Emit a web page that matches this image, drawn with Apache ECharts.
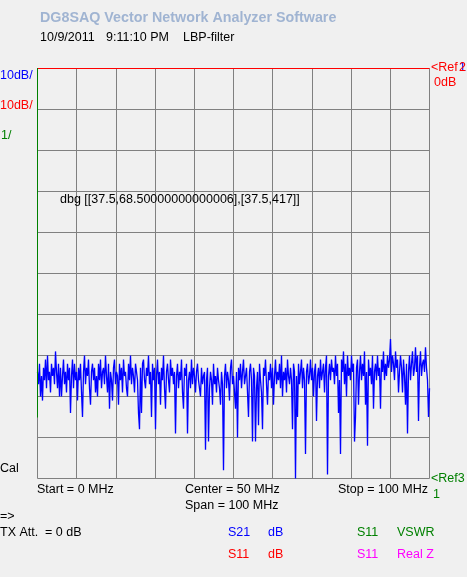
<!DOCTYPE html>
<html>
<head>
<meta charset="utf-8">
<script src="https://cdn.jsdelivr.net/npm/echarts@6/dist/echarts.min.js"></script>
<style>
html,body{margin:0;padding:0;background:#f0f0f0;}
#chart{width:467px;height:577px;}
</style>
</head>
<body>
<div id="chart"></div>
<script>
// Sweep
const startMHz = 0;
const stopMHz = 100;
// S21 (dB) trace, one value per sweep point
const s21dB = [
-74,-77,-72,-80,-75,-81,-73,-76,-71,-78,-70,-76,-74,-79,-72,-75,-73,-77,-69,-74,
-78,-72,-80,-73,-80,-75,-71,-77,-74,-79,-72,-76,-73,-84,-75,-71,-78,-72,-76,-74,
-81,-73,-76,-72,-79,-85,-74,-70,-77,-73,-75,-71,-78,-82,-74,-72,-76,-73,-79,-75,
-80,-72,-76,-71,-78,-74,-73,-77,-70,-75,-79,-72,-83,-74,-76,-81,-73,-71,-77,-74,
-75,-82,-72,-76,-73,-79,-71,-75,-74,-78,-80,-72,-76,-70,-77,-73,-75,-79,-72,-74,
-76,-84,-88,-73,-84,-72,-71,-76,-78,-73,-75,-70,-77,-74,-85,-72,-76,-73,-88,-75,
-71,-77,-74,-82,-73,-76,-70,-78,-83,-74,-72,-76,-79,-71,-75,-73,-77,-74,-89,-75,
-72,-78,-74,-76,-71,-79,-83,-73,-75,-72,-89,-76,-74,-78,-71,-77,-73,-75,-79,-74,
-72,-76,-78,-80,-73,-77,-75,-74,-93,-76,-73,-91,-78,-74,-76,-82,-72,-77,-75,-79,
-73,-76,-78,-82,-74,-77,-98,-75,-72,-78,-74,-76,-81,-73,-71,-77,-75,-79,-83,-74,
-90,-73,-76,-72,-78,-74,-71,-77,-75,-73,-79,-85,-74,-72,-76,-91,-73,-75,-91,-78,
-74,-87,-72,-76,-79,-88,-73,-75,-71,-77,-82,-74,-76,-72,-78,-73,-82,-75,-71,-77,
-74,-76,-72,-78,-70,-80,-74,-76,-73,-79,-71,-75,-77,-73,-76,-88,-72,-74,-100,-75,
-85,-72,-77,-74,-71,-78,-73,-76,-94,-74,-72,-77,-75,-71,-76,-73,-80,-74,-72,-86,
-75,-73,-78,-71,-76,-74,-72,-79,-73,-70,-99,-75,-72,-76,-71,-74,-73,-77,-70,-75,
-72,-84,-76,-94,-71,-74,-69,-77,-72,-80,-70,-75,-73,-76,-70,-74,-72,-91,-85,-73,
-71,-82,-74,-70,-76,-72,-75,-69,-82,-74,-92,-71,-75,-73,-77,-70,-83,-74,-72,-76,
-70,-75,-73,-83,-71,-74,-69,-76,-72,-75,-70,-73,-71,-66,-74,-70,-72,-76,-69,-73,
-71,-79,-74,-70,-73,-79,-71,-75,-82,-72,-89,-74,-70,-76,-72,-69,-75,-73,-68,-74,
-70,-86,-73,-69,-75,-72,-71,-74,-68,-73,-76,-85,-78
];
// S11 (dB) trace: flat at 0 dB across the sweep
const s11dBFreq = [0, 100];
const s11dB = [0, 0];
// S11 VSWR trace: vertical stroke at start frequency (in dB-scale units)
const vswrFreq = [0, 0];
const vswrVal = [0, -85];

const yMin = -100, yMax = 0, yStep = 10;
const xStep = 10;

const n = s21dB.length;
const s21Data = s21dB.map((v, i) => [startMHz + i * (stopMHz - startMHz) / (n - 1), v]);
const s11Data = s11dBFreq.map((f, i) => [f, s11dB[i]]);
const vswrData = vswrFreq.map((f, i) => [f, vswrVal[i]]);

const FONT = '"Liberation Sans", Arial, sans-serif';
function txt(x, y, text, color, extra) {
  return {
    type: 'text', x: x, y: y, z: 100,
    style: Object.assign({ text: text, fill: color, font: '12.5px ' + FONT, verticalAlign: 'middle', align: 'left' }, extra || {})
  };
}

const texts = [
  txt(40, 18, 'DG8SAQ Vector Network Analyzer Software', '#a0b4d2', { font: 'bold 14.3px ' + FONT }),
  txt(40, 38, '10/9/2011', '#000000'),
  txt(106, 38, '9:11:10 PM', '#000000'),
  txt(183, 38, 'LBP-filter', '#000000'),
  txt(0, 76, '10dB/', '#0000ff'),
  txt(0, 106, '10dB/', '#ff0000'),
  txt(1, 136, '1/', '#008000'),
  txt(0, 469, 'Cal', '#000000'),
  txt(431, 68, '<Ref', '#ff0000'),
  txt(459, 68, '1', '#0000ff'),
  txt(459, 68, '2', '#ff0000'),
  txt(434, 83, '0dB', '#ff0000'),
  txt(431, 479, '<Ref3', '#008000'),
  txt(433, 495, '1', '#008000'),
  txt(37, 490, 'Start = 0 MHz', '#000000'),
  txt(185, 490, 'Center = 50 MHz', '#000000'),
  txt(338, 490, 'Stop = 100 MHz', '#000000'),
  txt(185, 506, 'Span = 100 MHz', '#000000'),
  txt(0, 517, '=>', '#000000'),
  txt(0, 533, 'TX Att.', '#000000'),
  txt(45, 533, '= 0 dB', '#000000'),
  txt(228, 533, 'S21', '#0000ff'),
  txt(268, 533, 'dB', '#0000ff'),
  txt(357, 533, 'S11', '#008000'),
  txt(397, 533, 'VSWR', '#008000'),
  txt(228, 555, 'S11', '#ff0000'),
  txt(268, 555, 'dB', '#ff0000'),
  txt(357, 555, 'S11', '#ff00ff'),
  txt(397, 555, 'Real Z', '#ff00ff')
];

const chart = echarts.init(document.getElementById('chart'), null, { renderer: 'canvas' });
chart.setOption({
  backgroundColor: '#f0f0f0',
  animation: false,
  grid: { left: 37.5, top: 68.5, width: 392, height: 410 },
  xAxis: {
    type: 'value', min: startMHz, max: stopMHz, interval: xStep,
    axisLine: { show: false }, axisTick: { show: false }, axisLabel: { show: false },
    splitLine: { show: true, lineStyle: { color: '#808080', width: 1 } }
  },
  yAxis: {
    type: 'value', min: yMin, max: yMax, interval: yStep,
    axisLine: { show: false }, axisTick: { show: false }, axisLabel: { show: false },
    splitLine: { show: true, lineStyle: { color: '#808080', width: 1 } }
  },
  series: [
    { type: 'line', data: s21Data, showSymbol: false, symbol: 'none', clip: false, lineStyle: { color: '#0000ff', width: 1.3 }, z: 3, zlevel: 1 },
    { type: 'line', data: s11Data, showSymbol: false, symbol: 'none', clip: false, lineStyle: { color: '#ff0000', width: 1 }, z: 4, zlevel: 1 }
  ],
  graphic: texts
});

// S11 VSWR stroke, placed through the chart's own scales (1 px wide bar)
const p0 = chart.convertToPixel({ xAxisIndex: 0, yAxisIndex: 0 }, vswrData[0]) || [NaN, NaN];
const p1 = chart.convertToPixel({ xAxisIndex: 0, yAxisIndex: 0 }, vswrData[1]) || [NaN, NaN];
chart.setOption({
  graphic: texts.concat([
    {
      type: 'rect', z: 200, zlevel: 2,
      shape: { x: p0[0] - 0.5, y: Math.min(p0[1], p1[1]) - 0.5, width: 1, height: Math.abs(p1[1] - p0[1]) + 1 },
      style: { fill: '#008000' }
    },
    txt(60, 200, 'dbg ' + JSON.stringify([p0, p1]), '#000000')
  ])
});
</script>
</body>
</html>
